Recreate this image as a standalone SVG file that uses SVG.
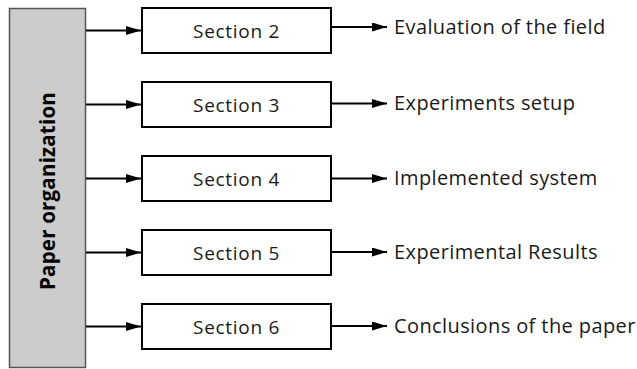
<svg xmlns="http://www.w3.org/2000/svg" width="637" height="369" viewBox="0 0 637 369">
<defs>
<marker id="ah" markerWidth="16" markerHeight="10" refX="15" refY="4.5" orient="auto" markerUnits="userSpaceOnUse">
<path d="M0,0 L15,4.5 L0,9 Z" fill="#000"/>
</marker>
<style>
.box{fill:#fff;stroke:#000;stroke-width:2}
.lbl{font-family:"Open Sans","Noto Sans",sans-serif;font-size:19px;letter-spacing:0.7px;fill:#1a1a1a}
.out{font-family:"Open Sans","Noto Sans",sans-serif;font-size:20px;letter-spacing:0.4px;fill:#1a1a1a}
.con{stroke:#000;stroke-width:2;fill:none;marker-end:url(#ah)}
</style>
</defs>
<rect width="637" height="369" fill="#fff"/>
<g id="paper-organization">
<rect x="9.5" y="8.5" width="76" height="359" fill="#cccccc" stroke="#555" stroke-width="1.5"/>
<text transform="translate(55,191) rotate(-90)" text-anchor="middle" font-family="Open Sans,Noto Sans,sans-serif" font-weight="bold" font-size="20.5" letter-spacing="0.2" fill="#000">Paper organization</text>
</g>
<g id="section2"><rect class="box" x="142" y="8" width="189" height="45"/><text class="lbl" x="236.5" y="37.5" text-anchor="middle">Section 2</text></g>
<g id="section3"><rect class="box" x="142" y="82" width="189" height="45"/><text class="lbl" x="236.5" y="111.5" text-anchor="middle">Section 3</text></g>
<g id="section4"><rect class="box" x="142" y="156" width="189" height="45"/><text class="lbl" x="236.5" y="185.5" text-anchor="middle">Section 4</text></g>
<g id="section5"><rect class="box" x="142" y="230" width="189" height="45"/><text class="lbl" x="236.5" y="259.5" text-anchor="middle">Section 5</text></g>
<g id="section6"><rect class="box" x="142" y="304" width="189" height="45"/><text class="lbl" x="236.5" y="333.5" text-anchor="middle">Section 6</text></g>
<g id="out2"><text class="out" x="394" y="33.5">Evaluation of the field</text></g>
<g id="out3"><text class="out" x="394" y="109.5">Experiments setup</text></g>
<g id="out4"><text class="out" x="394" y="184.5">Implemented system</text></g>
<g id="out5"><text class="out" x="394" y="258.5">Experimental Results</text></g>
<g id="out6"><text class="out" x="394" y="332.5">Conclusions of the paper</text></g>
<g id="connectors">
<line class="con" x1="86" y1="30.5" x2="141" y2="30.5"/>
<line class="con" x1="86" y1="104.5" x2="141" y2="104.5"/>
<line class="con" x1="86" y1="178.5" x2="141" y2="178.5"/>
<line class="con" x1="86" y1="252.5" x2="141" y2="252.5"/>
<line class="con" x1="86" y1="326.5" x2="141" y2="326.5"/>
<line class="con" x1="331" y1="27" x2="387" y2="27"/>
<line class="con" x1="331" y1="103.5" x2="387" y2="103.5"/>
<line class="con" x1="331" y1="178.5" x2="387" y2="178.5"/>
<line class="con" x1="331" y1="252" x2="387" y2="252"/>
<line class="con" x1="331" y1="326" x2="387" y2="326"/>
</g>
</svg>
